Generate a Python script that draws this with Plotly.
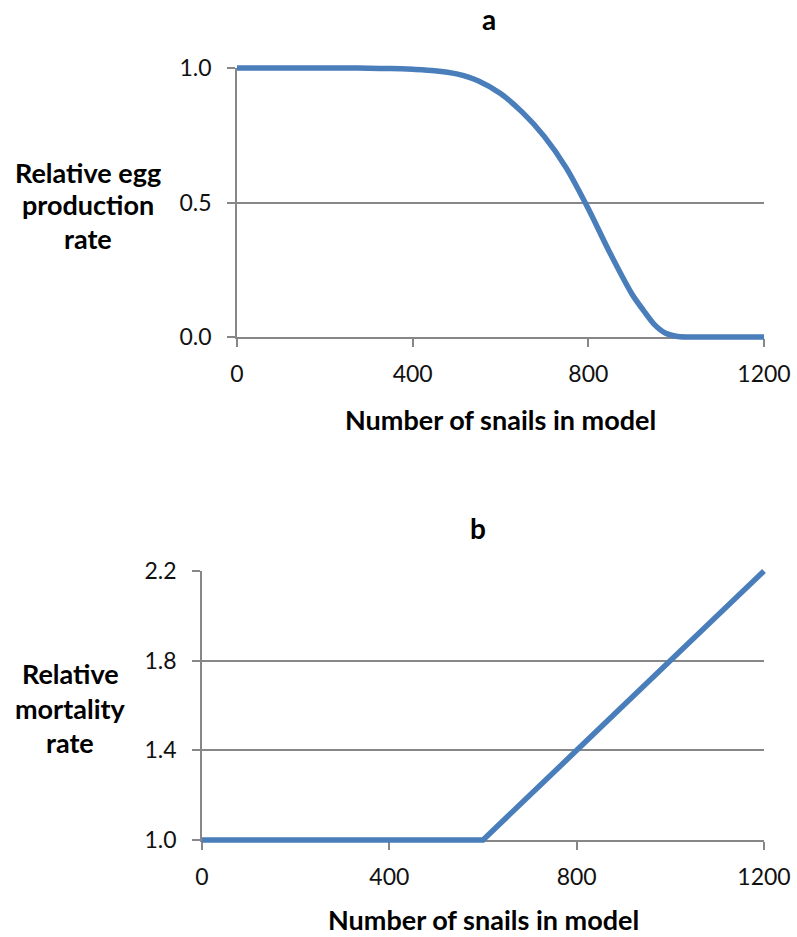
import plotly.graph_objects as go

W, H = 797, 937

# ---- data ----
snails_a = [0, 50, 100, 150, 200, 250, 300, 350, 400, 450, 500, 550, 600, 650,
            700, 750, 800, 850, 900, 925, 950, 975, 1000, 1025, 1050, 1100, 1150, 1200]
egg_rate = [1.0, 1.0, 1.0, 1.0, 1.0, 1.0, 0.999, 0.998, 0.995, 0.99, 0.978, 0.952,
            0.905, 0.835, 0.745, 0.628, 0.477, 0.31, 0.158, 0.1, 0.047, 0.015,
            0.003, 0.0, 0.0, 0.0, 0.0, 0.0]

snails_b = [0, 200, 400, 600, 800, 1000, 1200]
mort_rate = [1.0, 1.0, 1.0, 1.0, 1.4, 1.8, 2.2]

x_ticks = [0, 400, 800, 1200]
x_ticktext = ["0", "400", "800", "1200"]
ya_ticks = [0.0, 0.5, 1.0]
ya_ticktext = ["0.0", "0.5", "1.0"]
yb_ticks = [1.0, 1.4, 1.8, 2.2]
yb_ticktext = ["1.0", "1.4", "1.8", "2.2"]

FONT = "Lato"
GRID = "#878787"
BLUE = "#4A7EBB"
TXT = "#111111"
FS = 27
TFS = 23

# pixel boxes of the two plot areas (left, right, top, bottom)
box_a = (237, 764, 68, 337)
box_b = (202, 764, 571, 840)
PAD = 5


def xdom(l, r):
    return [l / W, r / W]


def ydom(t, b):
    return [1 - b / H, 1 - t / H]


def padded(box, xr, yr):
    l, r, t, b = box
    sx = (xr[1] - xr[0]) / (r - l)
    sy = (yr[1] - yr[0]) / (b - t)
    return (xdom(l - PAD, r + PAD), [xr[0] - PAD * sx, xr[1] + PAD * sx],
            ydom(t - PAD, b + PAD), [yr[0] - PAD * sy, yr[1] + PAD * sy])


fig = go.Figure()

xa_rng = [0, 1200]
ya_rng = [0, 1.0]
yb_rng = [1.0, 2.2]

xd3, xr3, yd3, yr3 = padded(box_a, xa_rng, ya_rng)
xd4, xr4, yd4, yr4 = padded(box_b, xa_rng, yb_rng)

# transparent copies so the grid subplots get drawn
fig.add_trace(go.Scatter(x=snails_a, y=egg_rate, mode="lines", xaxis="x", yaxis="y",
                         line=dict(color="rgba(0,0,0,0)", width=1),
                         showlegend=False, hoverinfo="skip"))
fig.add_trace(go.Scatter(x=snails_b, y=mort_rate, mode="lines", xaxis="x2", yaxis="y2",
                         line=dict(color="rgba(0,0,0,0)", width=1),
                         showlegend=False, hoverinfo="skip"))
# visible lines on padded (hidden) axes so the thick line is not clipped
fig.add_trace(go.Scatter(x=snails_a, y=egg_rate, mode="lines", xaxis="x3", yaxis="y3",
                         line=dict(color=BLUE, width=5.5, shape="spline", smoothing=0.8),
                         showlegend=False, hoverinfo="skip"))
fig.add_trace(go.Scatter(x=snails_b, y=mort_rate, mode="lines", xaxis="x4", yaxis="y4",
                         line=dict(color=BLUE, width=5.5),
                         showlegend=False, hoverinfo="skip"))

tickfont = dict(family=FONT, size=TFS, color=TXT)


def grid_x(dom, anchor):
    return dict(domain=dom, anchor=anchor, range=xa_rng, tickvals=x_ticks,
                ticktext=x_ticktext, ticks="outside", ticklen=8, tickwidth=1.6,
                tickcolor=GRID, showline=True, linecolor=GRID, linewidth=1.6,
                showgrid=False, zeroline=False, tickfont=tickfont,
                ticklabelstandoff=8, fixedrange=True, automargin=False)


def grid_y(dom, anchor, rng, tv, tt):
    return dict(domain=dom, anchor=anchor, range=rng, tickvals=tv, ticktext=tt,
                ticks="outside", ticklen=8, tickwidth=1.6, tickcolor=GRID,
                showline=True, linecolor=GRID, linewidth=1.6, showgrid=True,
                gridcolor=GRID, gridwidth=1.6, zeroline=False, tickfont=tickfont,
                ticklabelstandoff=11, fixedrange=True, automargin=False)


hidden = dict(visible=False, showgrid=False, zeroline=False, fixedrange=True,
              automargin=False)

fig.update_layout(
    width=W, height=H, autosize=False,
    margin=dict(l=0, r=0, t=0, b=0, pad=0, autoexpand=False),
    paper_bgcolor="white",
    plot_bgcolor="rgba(0,0,0,0)",
    showlegend=False,
    font=dict(family=FONT, color=TXT),
    xaxis=grid_x(xdom(box_a[0], box_a[1]), "y"),
    yaxis=grid_y(ydom(box_a[2], box_a[3]), "x", ya_rng, ya_ticks, ya_ticktext),
    xaxis2=grid_x(xdom(box_b[0], box_b[1]), "y2"),
    yaxis2=grid_y(ydom(box_b[2], box_b[3]), "x2", yb_rng, yb_ticks, yb_ticktext),
    xaxis3=dict(domain=xd3, range=xr3, anchor="y3", **hidden),
    yaxis3=dict(domain=yd3, range=yr3, anchor="x3", **hidden),
    xaxis4=dict(domain=xd4, range=xr4, anchor="y4", **hidden),
    yaxis4=dict(domain=yd4, range=yr4, anchor="x4", **hidden),
)


def ann(text, x, y, size=FS):
    fig.add_annotation(text=text, x=x / W, y=1 - y / H,
                       xref="paper", yref="paper",
                       showarrow=False, xanchor="center", yanchor="middle",
                       font=dict(family=FONT, size=size, color="black", weight="bold"))


ann("a", 489, 19, 28)
ann("b", 478, 528, 28)
ann("Number of snails in model", 500, 419)
ann("Number of snails in model", 483, 919)
for txt, yy in [("Relative egg", 172), ("production", 204), ("rate", 238)]:
    ann(txt, 88, yy)
for txt, yy in [("Relative", 673), ("mortality", 708), ("rate", 742)]:
    ann(txt, 70, yy)

fig.write_html(
    "out.html",
    config={"displayModeBar": False},
    post_script="document.body.style.margin='0';"
                "document.documentElement.style.overflow='hidden';"
                "document.body.style.overflow='hidden';",
)
